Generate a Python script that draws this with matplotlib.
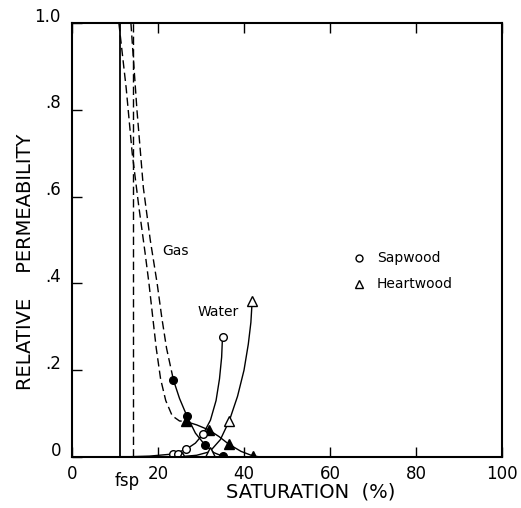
import matplotlib
matplotlib.use("Agg")
import matplotlib.pyplot as plt
from matplotlib.transforms import ScaledTranslation

# ---- data ----
# marker points
gas_sap_x = [23.6, 26.7, 30.9, 35.0]
gas_sap_y = [0.177, 0.095, 0.028, 0.002]
gas_heart_x = [26.4, 31.9, 36.4, 42.2]
gas_heart_y = [0.082, 0.062, 0.030, 0.002]
water_sap_x = [23.6, 24.6, 26.6, 30.5, 35.0]
water_sap_y = [0.007, 0.008, 0.018, 0.053, 0.277]
water_heart_x = [25.5, 32.0, 36.6, 41.9]
water_heart_y = [0.001, 0.012, 0.084, 0.360]

# traced curve paths
gas_sap_dash_x = [13.7, 15.1, 16.6, 18.2, 19.8, 20.9, 22.0, 23.6]
gas_sap_dash_y = [1.0, 0.8, 0.62, 0.50, 0.40, 0.32, 0.25, 0.177]
gas_heart_dash_x = [10.9, 12.6, 14.0, 15.5, 17.0, 17.9, 18.8, 19.6, 20.6, 21.8, 23.3, 25.0, 26.4]
gas_heart_dash_y = [1.0, 0.85, 0.70, 0.58, 0.47, 0.40, 0.32, 0.25, 0.18, 0.13, 0.095, 0.083, 0.082]
gas_sap_path_x = [23.6, 25.0, 26.7, 28.7, 30.9, 33.0, 35.0]
gas_sap_path_y = [0.177, 0.135, 0.095, 0.055, 0.028, 0.010, 0.002]
gas_heart_path_x = [26.4, 29.0, 31.9, 34.2, 36.4, 39.3, 42.2, 44.0]
gas_heart_path_y = [0.082, 0.074, 0.062, 0.047, 0.030, 0.013, 0.002, 0.0]
water_sap_path_x = [11.2, 18.0, 23.6, 26.6, 28.7, 30.5, 32.2, 33.5, 34.3, 34.8, 35.0]
water_sap_path_y = [0.0, 0.002, 0.007, 0.018, 0.032, 0.053, 0.085, 0.13, 0.18, 0.23, 0.277]
water_heart_path_x = [11.2, 20.0, 25.5, 29.0, 32.0, 34.5, 36.6, 38.5, 40.0, 41.0, 41.6, 41.9]
water_heart_path_y = [0.0, 0.0, 0.001, 0.004, 0.012, 0.040, 0.084, 0.14, 0.20, 0.26, 0.31, 0.36]

solid_vline_x = 11.2
dashed_vline_x = 14.2

x_ticks = [0, 20, 40, 60, 80, 100]
x_ticklabels = ["0", "20", "40", "60", "80", "100"]
y_ticks = [0, 0.2, 0.4, 0.6, 0.8, 1.0]
y_ticklabels = ["0", ".2", ".4", ".6", ".8", "1.0"]

# ---- figure ----
fig = plt.figure(figsize=(5.21, 5.08), dpi=100)
ax = fig.add_axes([72/521, 51/508, 430/521, 434/508])
ax.set_xlim(0, 100)
ax.set_ylim(0, 1.0)

lw = 1.0
k = "black"
ax.plot([solid_vline_x, solid_vline_x], [0, 1.0], color=k, lw=1.3)
ax.plot([dashed_vline_x, dashed_vline_x], [0, 1.0], color=k, lw=1.0, dashes=(6, 3))

ax.plot(gas_sap_dash_x, gas_sap_dash_y, color=k, lw=lw, dashes=(6, 3))
ax.plot(gas_heart_dash_x, gas_heart_dash_y, color=k, lw=lw, dashes=(6, 3))
ax.plot(gas_sap_path_x, gas_sap_path_y, color=k, lw=lw)
ax.plot(gas_heart_path_x, gas_heart_path_y, color=k, lw=lw)
ax.plot(water_sap_path_x, water_sap_path_y, color=k, lw=lw)
ax.plot(water_heart_path_x, water_heart_path_y, color=k, lw=lw)
ax.plot([11.2, 30], [0.0, 0.0], color=k, lw=2.2)

ms = 5.5
ax.plot(gas_sap_x, gas_sap_y, "o", color=k, ms=ms, mfc=k, mec=k)
ax.plot(gas_heart_x, gas_heart_y, "^", color=k, ms=ms + 1, mfc=k, mec=k)
ax.plot(water_sap_x, water_sap_y, "o", color=k, ms=ms, mfc="white", mec=k, mew=1.0)
ax.plot(water_heart_x, water_heart_y, "^", color=k, ms=ms + 1.5, mfc="white", mec=k, mew=1.0)

# labels in plot
ax.text(20.9, 0.475, "Gas", fontsize=10, va="center", ha="left")
ax.text(34.0, 0.334, "Water", fontsize=10, va="center", ha="center")
ax.plot([66.7], [0.458], "o", ms=5, mfc="white", mec=k, mew=1.0)
ax.text(70.9, 0.458, "Sapwood", fontsize=10, va="center", ha="left")
ax.plot([66.7], [0.399], "^", ms=6, mfc="white", mec=k, mew=1.0)
ax.text(70.9, 0.399, "Heartwood", fontsize=10, va="center", ha="left")

# axes styling
for s in ax.spines.values():
    s.set_linewidth(1.5)
ax.set_xticks(x_ticks)
ax.set_xticklabels(x_ticklabels)
ax.set_yticks(y_ticks)
ax.set_yticklabels(y_ticklabels)
ax.tick_params(direction="in", length=7, width=1.0, labelsize=12, top=True, right=False)
ax.tick_params(axis="x", pad=6)
ax.tick_params(axis="y", pad=8)
for lab in ax.get_yticklabels():
    lab.set_transform(lab.get_transform() + ScaledTranslation(0, 6/72, fig.dpi_scale_trans))

ax.text(12.8, -0.035, "fsp", fontsize=12, ha="center", va="top")

fig.text(311/521, 1 - 492/508, "SATURATION  (%)", fontsize=14, ha="center", va="center")
fig.text(26/521, 1 - 262/508, "RELATIVE    PERMEABILITY", fontsize=14,
         ha="center", va="center", rotation=90)

fig.savefig("out.png", dpi=100)
